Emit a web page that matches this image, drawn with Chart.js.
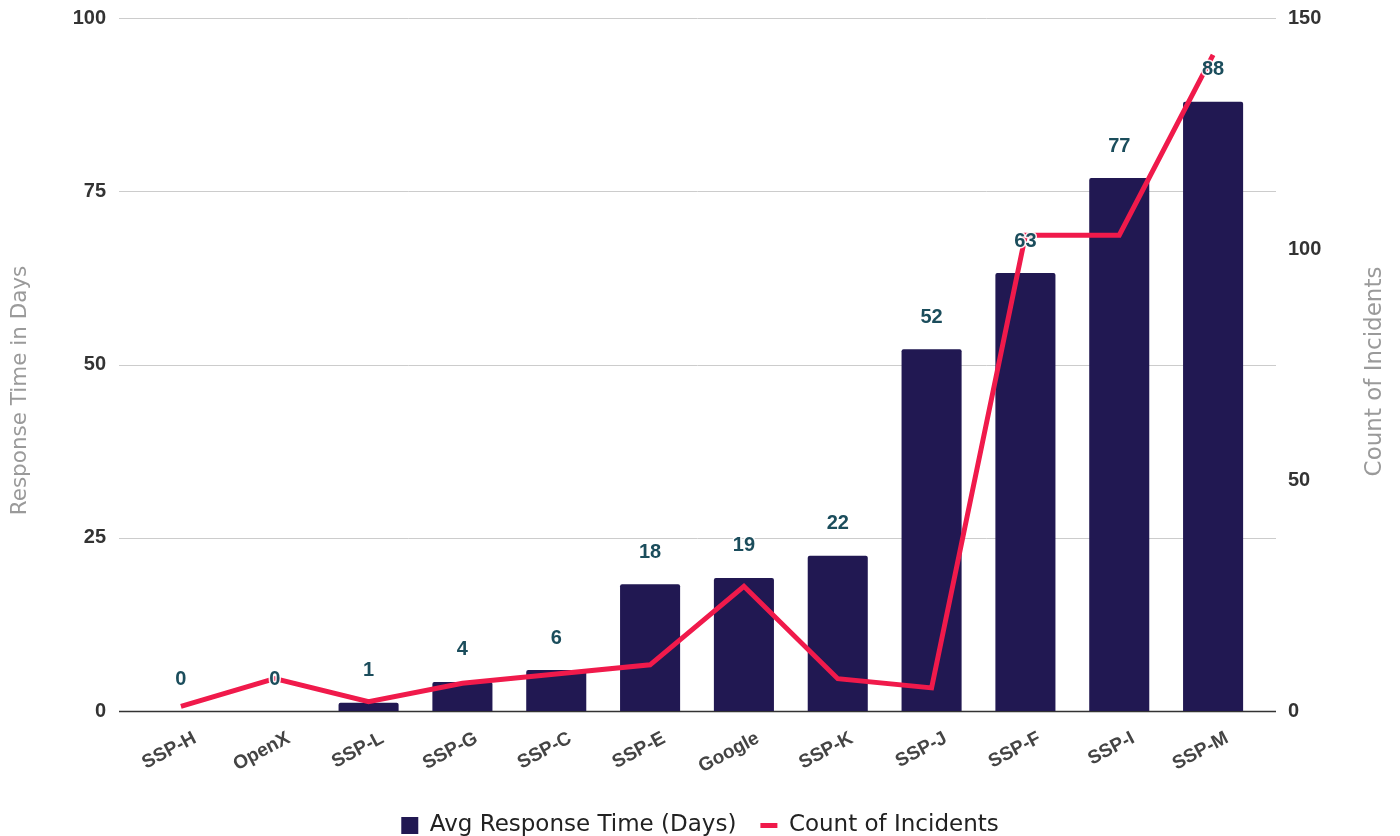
<!DOCTYPE html>
<html><head><meta charset="utf-8">
<script src="https://cdn.jsdelivr.net/npm/chart.js@4.4.0/dist/chart.umd.min.js"></script>
<style>html,body{margin:0;padding:0;background:#fff}#wrap{width:1400px;height:836px;position:relative}</style>
</head><body><div id="wrap"><canvas id="c"></canvas></div>
<script>
const categories = ['SSP-H','OpenX','SSP-L','SSP-G','SSP-C','SSP-E','Google','SSP-K','SSP-J','SSP-F','SSP-I','SSP-M'];
const avgResponseDays = [0, 0, 1.2, 4.2, 5.9, 18.3, 19.2, 22.4, 52.2, 63.2, 76.9, 87.9];
const incidentCounts = [1, 7, 2, 6, 8, 10, 27, 7, 5, 103, 103, 142];
const leftTicks = [0, 25, 50, 75, 100];
const rightTicks = [0, 50, 100, 150];
const barLabel = 'Avg Response Time (Days)';
const lineLabel = 'Count of Incidents';
const leftTitle = 'Response Time in Days';
const rightTitle = 'Count of Incidents';

const BAR = '#211852';
const LINE = '#f01a4b';
const FONT = "'Liberation Sans', Arial, sans-serif";
const WIDE = "'DejaVu Sans', sans-serif";

const gridPlugin = {
  id: 'grid',
  beforeDatasetsDraw(chart) {
    const {ctx, chartArea: a} = chart;
    const y = chart.scales.y;
    ctx.save();
    leftTicks.forEach(v => {
      const py = Math.round(y.getPixelForValue(v)) + 0.5;
      ctx.strokeStyle = v === 0 ? '#333333' : '#cccccc';
      ctx.lineWidth = v === 0 ? 1.5 : 1;
      ctx.beginPath();
      ctx.moveTo(a.left - 15, py);
      ctx.lineTo(a.right + 16, py);
      ctx.stroke();
    });
    ctx.restore();
  }
};

const labelPlugin = {
  id: 'barLabels',
  afterDatasetsDraw(chart) {
    const {ctx} = chart;
    const meta = chart.getDatasetMeta(1);
    ctx.save();
    ctx.font = "bold 20px " + FONT;
    ctx.textAlign = 'center';
    ctx.textBaseline = 'middle';
    meta.data.forEach((el, i) => {
      const t = String(Math.round(avgResponseDays[i]));
      ctx.lineWidth = 3;
      ctx.strokeStyle = 'rgba(255,255,255,0.9)';
      ctx.lineJoin = 'round';
      ctx.strokeText(t, el.x, el.y - 32);
      ctx.fillStyle = '#1b4d5c';
      ctx.fillText(t, el.x, el.y - 32);
    });
    ctx.restore();
  }
};

const titlePlugin = {
  id: 'axisTitles',
  afterDraw(chart) {
    const {ctx, chartArea: a} = chart;
    const mid = (a.top + a.bottom) / 2;
    [[leftTitle, 20, mid + 26, 21.5], [rightTitle, 1375, mid + 7, 23]].forEach(([t, x, y, sz]) => {
      ctx.save();
      ctx.font = sz + "px " + WIDE;
      ctx.fillStyle = '#9a9a9a';
      ctx.textAlign = 'center';
      ctx.textBaseline = 'middle';
      ctx.translate(x, y);
      ctx.rotate(-Math.PI / 2);
      ctx.fillText(t, 0, 0);
      ctx.restore();
    });
  }
};

const noVPad = s => { s.paddingTop = 0; s.paddingBottom = 0; };

new Chart(document.getElementById('c'), {
  data: {
    labels: categories,
    datasets: [
      {
        type: 'line', label: lineLabel, data: incidentCounts, yAxisID: 'y1',
        borderColor: LINE, backgroundColor: LINE, borderWidth: 5,
        pointRadius: 0, tension: 0, order: 0, borderJoinStyle: 'miter'
      },
      {
        type: 'bar', label: barLabel, data: avgResponseDays, yAxisID: 'y',
        backgroundColor: BAR, borderWidth: 0, borderRadius: 2,
        barPercentage: 0.64, categoryPercentage: 1, order: 1
      }
    ]
  },
  options: {
    responsive: true, maintainAspectRatio: false, animation: false,
    layout: { padding: { top: 18, bottom: -11, left: 0, right: 0 } },
    plugins: {
      tooltip: { enabled: false },
      legend: {
        position: 'bottom',
        labels: {
          font: { family: WIDE, size: 23 }, color: '#222222',
          usePointStyle: true, pointStyleWidth: 17, boxWidth: 17, boxHeight: 17, padding: 24,
          generateLabels: () => [
            { text: barLabel, fillStyle: BAR, strokeStyle: BAR, lineWidth: 0, pointStyle: 'rect', datasetIndex: 1, hidden: false, fontColor: '#222222' },
            { text: lineLabel, fillStyle: LINE, strokeStyle: LINE, lineWidth: 5, pointStyle: 'line', datasetIndex: 0, hidden: false, fontColor: '#222222' }
          ]
        }
      }
    },
    scales: {
      x: {
        grid: { display: false, drawTicks: false }, border: { display: false },
        ticks: { font: { family: FONT, size: 19, weight: 'bold' }, color: '#444444', minRotation: 28, maxRotation: 28, padding: 16, labelOffset: 14 },
        afterFit: s => { s.height = 79; }
      },
      y: {
        position: 'left', min: 0, max: 100,
        afterBuildTicks: s => { s.ticks = leftTicks.map(v => ({ value: v })); },
        grid: { display: false, drawTicks: false }, border: { display: false },
        ticks: { font: { family: FONT, size: 20, weight: 'bold' }, color: '#333333', padding: 28 },
        afterFit: s => { s.width = 134; noVPad(s); }
      },
      y1: {
        position: 'right', min: 0, max: 150,
        afterBuildTicks: s => { s.ticks = rightTicks.map(v => ({ value: v })); },
        grid: { display: false, drawTicks: false }, border: { display: false },
        ticks: { font: { family: FONT, size: 20, weight: 'bold' }, color: '#333333', padding: 28 },
        afterFit: s => { s.width = 140; noVPad(s); }
      }
    }
  },
  plugins: [gridPlugin, labelPlugin, titlePlugin]
});
</script>
</body></html>
